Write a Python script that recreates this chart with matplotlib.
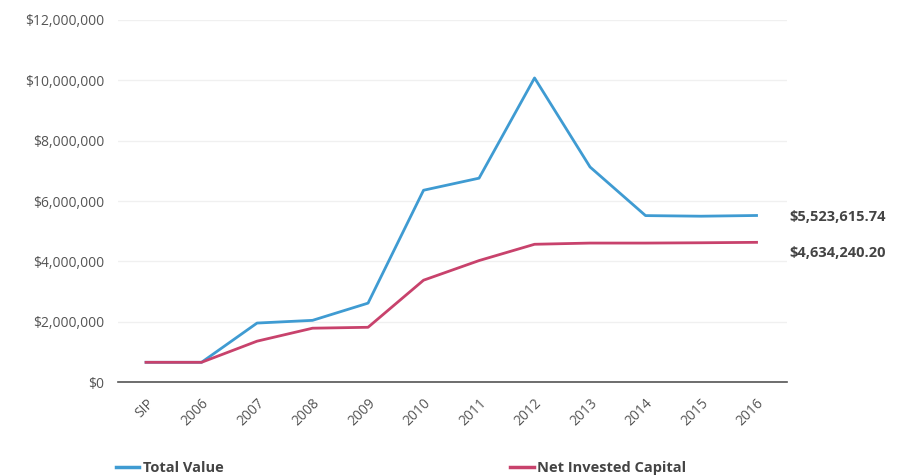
import matplotlib.pyplot as plt
from matplotlib import ticker

plt.rcParams['font.family'] = ['Open Sans', 'DejaVu Sans']

# data
periods = ["SIP", "2006", "2007", "2008", "2009", "2010", "2011", "2012", "2013", "2014", "2015", "2016"]
total_value = [660000, 660000, 1960000, 2050000, 2620000, 6360000, 6760000, 10080000, 7130000, 5520000, 5500000, 5523615.74]
net_invested = [660000, 660000, 1360000, 1790000, 1820000, 3380000, 4030000, 4570000, 4610000, 4610000, 4620000, 4634240.20]
series_names = ["Total Value", "Net Invested Capital"]
end_labels = ["$5,523,615.74", "$4,634,240.20"]

blue = "#3f9bd2"
red = "#c8426c"

fig = plt.figure(figsize=(9.03, 4.76), dpi=100)
ax = fig.add_axes([0.131, 0.197, 0.74, 0.761])

x = list(range(len(periods)))
ax.plot(x, total_value, color=blue, lw=2.0)
ax.plot(x, net_invested, color=red, lw=2.0)

ax.set_xlim(-0.5, 11.54)
ax.set_ylim(0, 12000000)
ax.yaxis.set_major_locator(ticker.MultipleLocator(2000000))
ax.yaxis.set_major_formatter(ticker.FuncFormatter(lambda v, p: f"${v:,.0f}"))
ax.grid(axis='y', color='#f0f0f0', lw=1)
ax.set_axisbelow(True)

for s in ['top', 'right', 'left']:
    ax.spines[s].set_visible(False)
ax.spines['bottom'].set_color('#555555')
ax.spines['bottom'].set_linewidth(1.2)

ax.set_xticks(x)
ax.set_xticklabels(periods, rotation=45, ha='right', rotation_mode='anchor')
ax.tick_params(axis='both', length=0, colors='#555555', labelsize=10)
ax.tick_params(axis='x', pad=10)
ax.tick_params(axis='y', pad=10)

# value labels on the right, the lower one nudged down a little
for val, lab, dy in zip([total_value[-1], net_invested[-1]], end_labels, [-1, -8]):
    ax.annotate(lab, xy=(1.0, val), xycoords=('axes fraction', 'data'),
                xytext=(2, dy), textcoords='offset points', va='center',
                ha='left', fontsize=10.5, fontweight='bold', color='#444444')

# legend drawn by hand at the bottom
for xl, col, name in [(0.128, blue, series_names[0]), (0.565, red, series_names[1])]:
    fig.add_artist(plt.Line2D([xl, xl + 0.026], [0.019, 0.019], color=col, lw=2.5))
    fig.text(xl + 0.03, 0.017, name, va='center', ha='left', fontsize=10.5,
             fontweight='bold', color='#444444')

fig.savefig("out.png", dpi=100)
